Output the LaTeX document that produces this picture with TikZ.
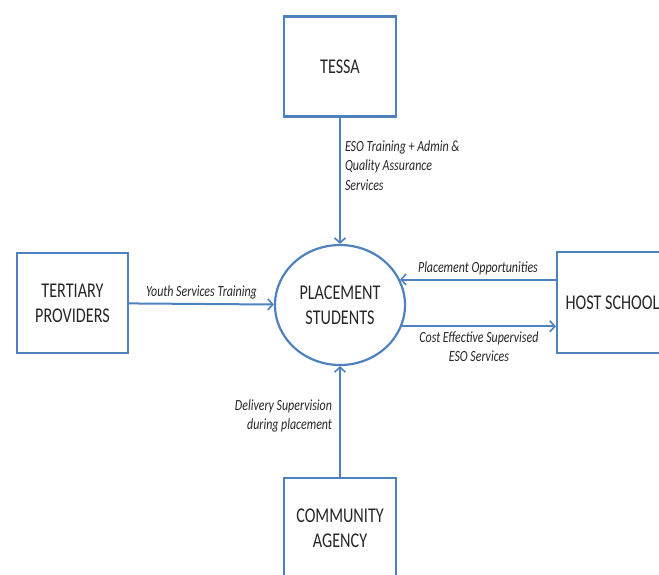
\documentclass[tikz,border=0pt]{standalone}
\usepackage{fontspec}
\setmainfont[FakeStretch=0.77]{Carlito}
\usetikzlibrary{shapes.geometric,arrows.meta}
\definecolor{officeblue}{HTML}{4F81BD}

\begin{document}
\begin{tikzpicture}[x=1pt,y=-1pt,
    entity/.style={draw=officeblue,line width=2.2pt,minimum width=112pt,minimum height=100pt,
        align=center,text=black!85,font=\fontsize{21}{25}\selectfont},
    flow/.style={draw=officeblue,line width=2pt,-{Straight Barb[length=5pt,width=11pt,line width=1.6pt]}},
    flowtext/.style={text=black!85,font=\fontsize{15.5}{19.5}\selectfont\itshape,inner sep=4pt}]
            \useasboundingbox (0,0) rectangle (659,574);
            \clip (0,0) rectangle (659,574);
            \node[ellipse,draw=officeblue,line width=2.2pt,minimum width=130pt,minimum height=120pt,inner sep=0pt,
                align=center,text=black!85,font=\fontsize{21}{25}\selectfont] (ps) at (340,305) {PLACEMENT\\STUDENTS};
            \node[entity] (tessa) at (340,66.5) {TESSA};
            \node[entity,minimum width=111pt] (tertiary) at (72.5,303) {TERTIARY\\PROVIDERS};
            \node[entity,minimum width=111pt,minimum height=101pt] (host) at (612.5,302.5) {HOST SCHOOL};
            \node[entity] (community) at (340,528) {COMMUNITY\\AGENCY};
            \draw[flow] (tessa) -- node[flowtext,pos=0.38,right,align=left]{ESO Training + Admin \&\\Quality Assurance\\Services} (ps);
            \draw[flow] (tertiary) -- node[flowtext,midway,above]{Youth Services Training} (ps);
            \draw[flow] (host.west |- ps.23) -- node[flowtext,midway,above]{Placement Opportunities} (ps.23);
            \draw[flow] (ps.-19) -- node[flowtext,midway,below,align=center]{Cost Effective Supervised\\ESO Services} (ps.-19 -| host.west);
            \draw[flow] (community) -- node[flowtext,pos=0.55,left,align=right,inner sep=7pt]{Delivery Supervision\\during placement} (ps);
        \end{tikzpicture}
\end{document}
